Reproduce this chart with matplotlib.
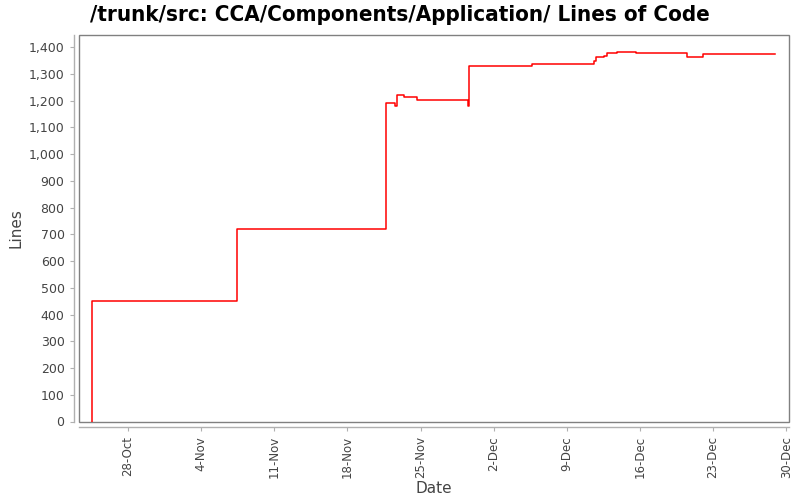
import matplotlib
matplotlib.use('Agg')
import matplotlib.pyplot as plt
import matplotlib.ticker as mticker
from matplotlib.patches import Rectangle
import pandas as pd

# commit times and lines of code (step chart)
times = ['2003-10-24 14:00', '2003-10-24 14:30', '2003-11-07 10:00', '2003-11-21 16:30',
         '2003-11-22 13:00', '2003-11-22 18:00', '2003-11-23 10:00', '2003-11-24 16:00',
         '2003-11-29 13:30', '2003-11-29 16:30', '2003-12-05 15:00', '2003-12-11 14:30',
         '2003-12-11 19:00', '2003-12-12 14:30', '2003-12-12 21:30', '2003-12-13 19:00',
         '2003-12-15 14:30', '2003-12-18 19:00', '2003-12-20 12:00', '2003-12-22 00:00',
         '2003-12-28 21:30']
lines = [0, 450, 718, 1189, 1178, 1222, 1212, 1203,
         1178, 1328, 1336, 1348, 1364, 1368, 1377, 1381,
         1376, 1377, 1361, 1375, 1375]

tick_dates = ['2003-10-28', '2003-11-04', '2003-11-11', '2003-11-18', '2003-11-25',
              '2003-12-02', '2003-12-09', '2003-12-16', '2003-12-23', '2003-12-30']
tick_labels = ['28-Oct', '4-Nov', '11-Nov', '18-Nov', '25-Nov',
               '2-Dec', '9-Dec', '16-Dec', '23-Dec', '30-Dec']

t = pd.to_datetime(times)
fig = plt.figure(figsize=(8, 5), dpi=100)
ax = fig.add_axes([0.099, 0.157, 0.887, 0.773])

ax.step(t, lines, where='post', color='#ff0000', linewidth=1.1)

ax.set_xlim(pd.Timestamp('2003-10-23 08:00'), pd.Timestamp('2003-12-30 06:00'))
ax.set_ylim(0, 1445)
ax.set_yticks(range(0, 1401, 100))
ax.yaxis.set_major_formatter(mticker.FuncFormatter(lambda v, p: '{:,.0f}'.format(v)))
ax.set_xticks(pd.to_datetime(tick_dates))
ax.set_xticklabels(tick_labels)

for s in ['top', 'right']:
    ax.spines[s].set_visible(False)
for s in ['left', 'bottom']:
    ax.spines[s].set_position(('outward', 4))
    ax.spines[s].set_color('#b0b0b0')
    ax.spines[s].set_linewidth(1.0)
ax.add_patch(Rectangle((0, 0), 1, 1, transform=ax.transAxes, fill=False,
                       edgecolor='#808080', linewidth=1.0, clip_on=False))
ax.tick_params(colors='#b0b0b0', labelcolor='#444444', length=3)
ax.tick_params(axis='y', labelsize=9)
ax.tick_params(axis='x', labelrotation=90, labelsize=8.5)

ax.set_xlabel('Date', fontsize=11, color='#444444', labelpad=2)
ax.set_ylabel('Lines', fontsize=11, color='#444444', labelpad=4)
fig.text(0.5, 0.99, '/trunk/src: CCA/Components/Application/ Lines of Code',
         ha='center', va='top', fontsize=16, fontweight='bold', fontstretch='condensed')

fig.savefig('out.png', dpi=100)
